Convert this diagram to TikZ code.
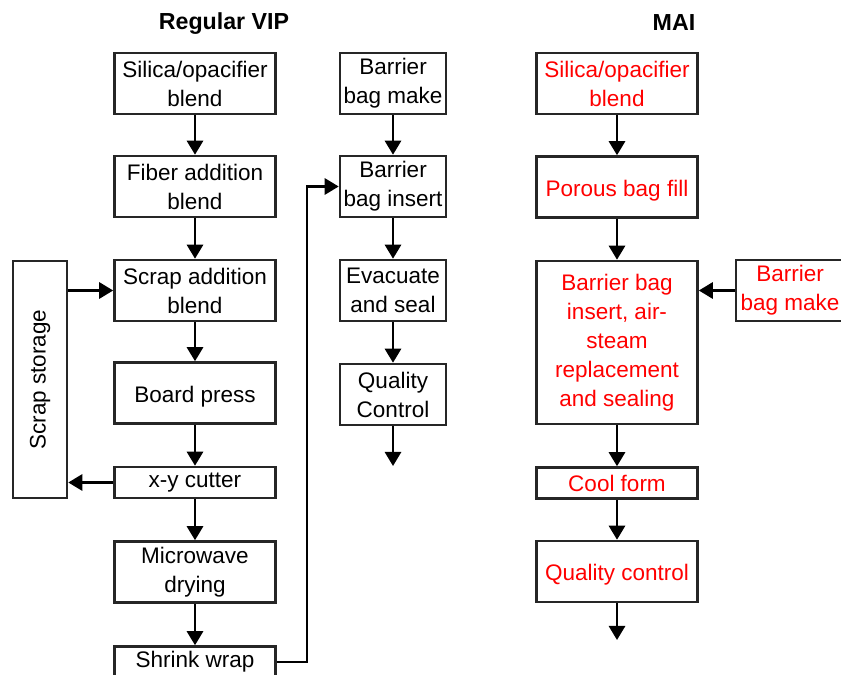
\documentclass[tikz,border=0pt]{standalone}
\usepackage{fontspec}
\setmainfont{Liberation Sans}
\usepackage{xcolor}
\usetikzlibrary{arrows.meta}

\newcommand{\lowtext}[1]{\raisebox{-2.5pt}[\height][\depth]{#1}}

\begin{document}
\begin{tikzpicture}[x=0.025cm, y=-0.025cm]
        % ================= 样式 =================
        \tikzset{
            stepbox/.style={draw=black!85, line width=1.8pt, fill=white, align=center, inner sep=0pt,
                font=\fontsize{16}{20.6}\selectfont},
            wide/.style={minimum width=4.025cm},
            narrow/.style={minimum width=2.65cm},
            tall/.style={minimum height=1.525cm},
            flat/.style={minimum height=0.775cm},
            mai_text/.style={text=red},
            flow_arrow/.style={line width=1.8pt, black, -{Triangle[length=10pt, width=11.5pt]}},
            title/.style={font=\fontsize{16.5}{20}\selectfont\bfseries}
        }

        \useasboundingbox (0,0) rectangle (841,675);

        % ================= 标题 =================
        \node[title] (t_vip) at (224,24) {Regular VIP};
        \node[title] (t_mai) at (674,23) {MAI};

        % ================= 左列:Regular VIP =================
        \node[stepbox, wide, tall] (silica) at (195,83.5) {Silica/opacifier\\blend};
        \node[stepbox, wide, tall] (fiber) at (195,186.5) {Fiber addition\\blend};
        \node[stepbox, wide, tall] (sadd) at (195,290.5) {Scrap addition\\blend};
        \node[stepbox, wide, tall] (press) at (195,393) {\lowtext{Board press}};
        \node[stepbox, wide, flat] (cutter) at (195,482.5) {x-y cutter};
        \node[stepbox, wide, tall] (micro) at (195,572) {Microwave\\drying};
        \node[stepbox, wide, flat] (shrink) at (195,662) {Shrink wrap};

        % 废料存储
        \node[stepbox, minimum width=1.35cm, minimum height=5.925cm] (store) at (40,379.5)
            {\rotatebox{90}{Scrap storage}};

        \draw[flow_arrow] (silica) -- (fiber);
        \draw[flow_arrow] (fiber) -- (sadd);
        \draw[flow_arrow] (sadd) -- (press);
        \draw[flow_arrow] (press) -- (cutter);
        \draw[flow_arrow] (cutter) -- (micro);
        \draw[flow_arrow] (micro) -- (shrink);
        \draw[flow_arrow] (store.east |- sadd.west) -- (sadd.west);
        \draw[flow_arrow] (cutter.west) -- (cutter.west -| store.east);

        % ================= 中列:封装 =================
        \node[stepbox, narrow, tall] (bmake) at (393,83.5) {Barrier\\bag make};
        \node[stepbox, narrow, tall] (binsert) at (393,186.5) {Barrier\\bag insert};
        \node[stepbox, narrow, tall] (evac) at (393,290.5) {Evacuate\\and seal};
        \node[stepbox, narrow, tall] (qc) at (393,394.5) {Quality\\Control};
        \coordinate (vip_end) at (393,466);

        \draw[flow_arrow] (bmake) -- (binsert);
        \draw[flow_arrow] (binsert) -- (evac);
        \draw[flow_arrow] (evac) -- (qc);
        \draw[flow_arrow] (qc) -- (vip_end);
        \draw[flow_arrow] (shrink.east) -- ++(30,0) |- (binsert.west);

        % ================= 右列:MAI =================
        \node[stepbox, wide, tall, mai_text] (msilica) at (617,83.5) {Silica/opacifier\\blend};
        \node[stepbox, wide, tall, mai_text] (mfill) at (617,187) {\lowtext{Porous bag fill}};
        \node[stepbox, wide, minimum height=4.075cm, mai_text] (mseal) at (617,342.5)
            {Barrier bag\\insert, air-\\steam\\replacement\\and sealing};
        \node[stepbox, wide, flat, mai_text] (mcool) at (617,483) {Cool form};
        \node[stepbox, wide, tall, mai_text] (mqc) at (617,571.5) {\lowtext{Quality control}};
        \node[stepbox, minimum width=2.7cm, tall, mai_text] (mmake) at (790,290.5) {Barrier\\bag make};
        \coordinate (mai_end) at (617,640);

        \draw[flow_arrow] (msilica) -- (mfill);
        \draw[flow_arrow] (mfill) -- (mseal);
        \draw[flow_arrow] (mseal) -- (mcool);
        \draw[flow_arrow] (mcool) -- (mqc);
        \draw[flow_arrow] (mqc) -- (mai_end);
        \draw[flow_arrow] (mmake.west) -- (mmake.west -| mseal.east);

    \end{tikzpicture}
\end{document}
